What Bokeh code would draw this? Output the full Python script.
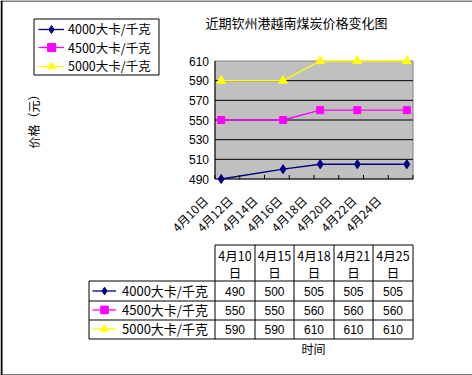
from math import pi
from bokeh.plotting import figure
from bokeh.models import Range1d, Legend, LegendItem
from bokeh.core.properties import value
from bokeh.embed import file_html
from bokeh.resources import INLINE

# ---------------- data ----------------
dates = ["4月10日", "4月15日", "4月18日", "4月21日", "4月25日"]
days = [10, 15, 18, 21, 25]
series_names = ["4000大卡/千克", "4500大卡/千克", "5000大卡/千克"]
v4000 = [490, 500, 505, 505, 505]
v4500 = [550, 550, 560, 560, 560]
v5000 = [590, 590, 610, 610, 610]
y_ticks = [490, 510, 530, 550, 570, 590, 610]
x_tick_days = [10, 12, 14, 16, 18, 20, 22, 24]
x_tick_labels = ["4月10日", "4月12日", "4月14日", "4月16日",
                 "4月18日", "4月20日", "4月22日", "4月24日"]
title_text = "近期钦州港越南煤炭价格变化图"
y_title = "价格（元）"
x_title = "时间"

series_values = [v4000, v4500, v5000]
series_colors = ["#000080", "#FF00FF", "#FFFF00"]
series_markers = ["diamond", "square", "triangle"]
series_sizes = [9, 7, 9]

# ---------------- layout (pixels) ----------------
W, H = 472, 375
CJK = "Noto Sans CJK SC"
NUM = "Liberation Sans"

x_lo, x_hi = days[0] - 0.5, days[-1] + 0.5
y0, y1 = y_ticks[0], y_ticks[-1]
PL, PR = 214.5, 412.5          # plot area left / right (px)
PT, PB = 60.5, 178.5           # plot area top / bottom (px)
ppx = (PR - PL) / (x_hi - x_lo)
ppu = (PB - PT) / (y1 - y0)
xs = x_lo - PL / ppx
xe = xs + W / ppx
ys = y0 - (H - PB) / ppu
ye = y1 + PT / ppu

p = figure(width=W, height=H, x_range=Range1d(xs, xe), y_range=Range1d(ys, ye),
           x_axis_type=None, y_axis_type=None, title=None,
           output_backend="svg", toolbar_location=None,
           min_border=0, min_border_left=0, min_border_right=0,
           min_border_top=0, min_border_bottom=0,
           background_fill_color="white", border_fill_color="white",
           outline_line_color=None)
p.grid.visible = False
p.extra_x_ranges = {"px": Range1d(0, W)}
p.extra_y_ranges = {"px": Range1d(H, 0)}
PX = dict(x_range_name="px", y_range_name="px")

# ---------------- chart ----------------
p.quad(left=[x_lo], right=[x_hi], bottom=[y0], top=[y1],
       fill_color="#C0C0C0", line_color="#808080", line_width=1)
grid_ys = y_ticks[1:-1]
p.segment(x0=[x_lo] * len(grid_ys), x1=[x_hi] * len(grid_ys), y0=grid_ys, y1=grid_ys,
          line_color="black", line_width=1)
# axis lines
p.segment(x0=[x_lo, x_lo], y0=[y0, y0], x1=[x_lo, x_hi], y1=[y1, y0],
          line_color="black", line_width=1)
# tick marks (inside), at the 2-day boundaries
edges = [d - 0.5 for d in x_tick_days] + [x_tick_days[-1] + 1.5]
p.segment(x0=edges, x1=edges, y0=[y0] * len(edges), y1=[y0 + 4 / ppu] * len(edges),
          line_color="black", line_width=1)
# y tick labels
p.text(x=[x_lo] * len(y_ticks), y=y_ticks, text=[str(v) for v in y_ticks],
       x_offset=-6, text_align="right", text_baseline="middle",
       text_font=value(NUM), text_font_size=value("12px"), text_color="black")
# x tick labels (rotated)
LOFF = 1.3
p.text(x=[d - LOFF for d in x_tick_days], y=[y0] * len(x_tick_days), text=x_tick_labels,
       angle=pi / 4, y_offset=19, text_align="right", text_baseline="middle",
       text_font=value(CJK), text_font_size=value("12px"), text_color="black")

# legend frame (drawn under the legend entries)
p.quad(left=[33.5], right=[158.5], top=[18.5], bottom=[74.5],
       fill_color="white", line_color="black", line_width=1, **PX)

# series
items, items2 = [], []
for name, vals, col, mk, sz in zip(series_names, series_values, series_colors,
                                   series_markers, series_sizes):
    lr = p.line(days, vals, line_color=col, line_width=1.3)
    sr = p.scatter(days, vals, marker=mk, size=sz, fill_color=col, line_color=col)
    items.append(LegendItem(label=name, renderers=[lr, sr]))
    items2.append(LegendItem(label=name, renderers=[lr, sr]))

# ---------------- legend (one entry per row) ----------------
for item, cy in zip(items, [28.5, 47, 65.5]):
    p.add_layout(Legend(items=[item], location=(38, H - (cy + 10)),
                        border_line_alpha=0, background_fill_alpha=0,
                        padding=0, spacing=0, margin=0,
                        glyph_width=26, glyph_height=20, label_height=20,
                        label_standoff=4, label_text_font=CJK,
                        label_text_font_size="12.5px", label_text_color="black"))

# ---------------- data table ----------------
cols = [v + 0.5 for v in (88, 214, 254, 293, 333, 372, 412)]
rows = [v + 0.5 for v in (244, 280, 300, 319, 338)]

hx0 = [cols[1], cols[0], cols[0], cols[0], cols[0]]
p.segment(x0=hx0, x1=[cols[6]] * 5, y0=rows, y1=rows, line_color="black",
          line_width=1, **PX)
vy0 = [rows[1]] + [rows[0]] * 6
p.segment(x0=cols, x1=cols, y0=vy0, y1=[rows[4]] * 7, line_color="black",
          line_width=1, **PX)

cxs = [(cols[i + 1] + cols[i + 2]) / 2 for i in range(5)]
p.text(x=cxs, y=[255] * 5, text=[d[:-1] for d in dates], text_align="center",
       text_baseline="middle", text_font=value(CJK), text_font_size=value("12.5px"),
       text_color="black", **PX)
p.text(x=cxs, y=[272] * 5, text=[d[-1] for d in dates], text_align="center",
       text_baseline="middle", text_font=value(CJK), text_font_size=value("12.5px"),
       text_color="black", **PX)
for r, vals in enumerate(series_values):
    cy = (rows[r + 1] + rows[r + 2]) / 2
    p.text(x=cxs, y=[cy] * 5, text=[str(v) for v in vals], text_align="center",
           text_baseline="middle", text_font=value(NUM), text_font_size=value("12px"),
           text_color="black", **PX)

tleg = Legend(items=items2,
              location=(88, H - 342),
              border_line_alpha=0, background_fill_alpha=0,
              padding=4, spacing=0, margin=0,
              glyph_width=24, glyph_height=19, label_height=19,
              label_standoff=6, label_text_font=CJK,
              label_text_font_size="13px", label_text_color="black")
p.add_layout(tleg)

# ---------------- titles ----------------
p.text(x=[296], y=[22], text=[title_text], text_align="center",
       text_baseline="middle", text_font=value(CJK), text_font_size=value("13px"),
       text_color="black", **PX)
p.text(x=[33], y=[118], text=[y_title], angle=pi / 2, text_align="center",
       text_baseline="middle", text_font=value(CJK), text_font_size=value("12px"),
       text_color="black", **PX)
p.text(x=[313], y=[348], text=[x_title], text_align="center",
       text_baseline="middle", text_font=value(CJK), text_font_size=value("12px"),
       text_color="black", **PX)

# ---------------- outer frame (left, top, bottom) ----------------
p.segment(x0=[1, 0, 0], y0=[0, 0.5, 374.5], x1=[1, W, W], y1=[375, 0.5, 374.5],
          line_color="black", line_width=[2, 1, 1], **PX)

open("out.html", "w").write(file_html(p, INLINE))
